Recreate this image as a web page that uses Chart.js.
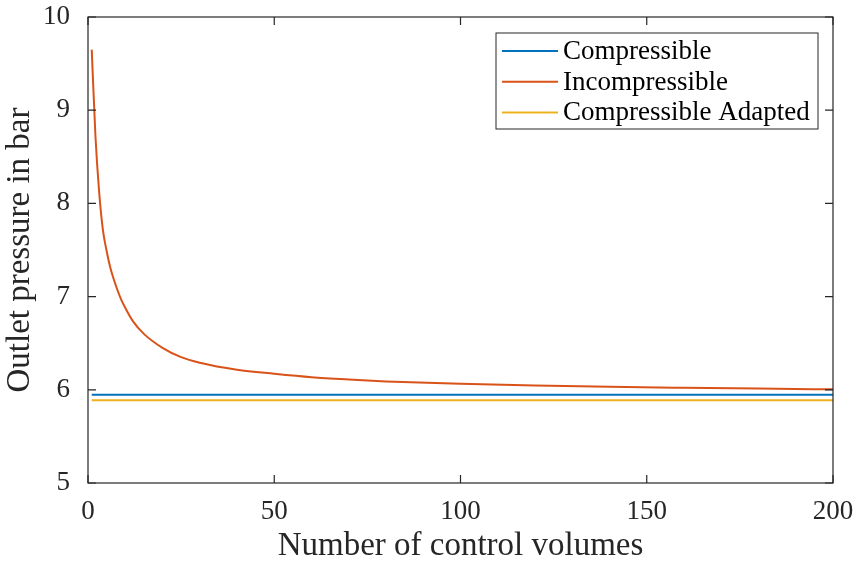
<!DOCTYPE html>
<html>
<head>
<meta charset="utf-8">
<script src="https://cdn.jsdelivr.net/npm/chart.js@4"></script>
<style>
  html, body { margin: 0; padding: 0; background: #fff; }
  #wrap { width: 856px; height: 563px; }
</style>
</head>
<body>
<div id="wrap"><canvas id="pressureChart"></canvas></div>
<script>
// values
const controlVolumes = [1, 2, 3, 4, 5, 6, 7, 8, 9, 10, 12, 15, 20, 25, 30, 40, 50, 60, 70, 80, 100, 120, 140, 160, 180, 200];
const incompressible = [9.65, 8.72, 8.12, 7.715, 7.49, 7.31, 7.175, 7.06, 6.96, 6.88, 6.74, 6.60, 6.45, 6.35, 6.29, 6.215, 6.172, 6.135, 6.11, 6.09, 6.064, 6.045, 6.032, 6.022, 6.013, 6.005];
const constRange = [1, 200];
const compressible = [5.947, 5.947];
const compressibleAdapted = [5.887, 5.887];
const xTicks = [0, 50, 100, 150, 200];
const yTicks = [5, 6, 7, 8, 9, 10];

const serif = '"Liberation Serif", "Times New Roman", serif';
const axisColor = '#262626';

const toPoints = (xs, ys) => xs.map((x, i) => ({ x: x, y: ys[i] }));

// box around the axes with inward ticks on all four sides (matlab style)
const boxTicks = {
    id: 'boxTicks',
    afterDatasetsDraw(chart) {
        const { ctx, chartArea: a, scales } = chart;
        const len = 8;
        ctx.save();
        ctx.strokeStyle = axisColor;
        ctx.lineWidth = 1.2;
        ctx.strokeRect(a.left, a.top, a.right - a.left, a.bottom - a.top);
        ctx.beginPath();
        xTicks.forEach(v => {
            const px = scales.x.getPixelForValue(v);
            ctx.moveTo(px, a.bottom); ctx.lineTo(px, a.bottom - len);
            ctx.moveTo(px, a.top); ctx.lineTo(px, a.top + len);
        });
        yTicks.forEach(v => {
            const py = scales.y.getPixelForValue(v);
            ctx.moveTo(a.left, py); ctx.lineTo(a.left + len, py);
            ctx.moveTo(a.right, py); ctx.lineTo(a.right - len, py);
        });
        ctx.stroke();
        ctx.restore();
    }
};

// legend box in the upper right of the axes
const insideLegend = {
    id: 'insideLegend',
    afterDraw(chart) {
        const { ctx, chartArea: a } = chart;
        const right = a.right - 15, top = a.top + 16;
        const w = 322, h = 96, rowH = 30.7;
        const left = right - w;
        ctx.save();
        ctx.fillStyle = '#fff';
        ctx.fillRect(left, top, w, h);
        ctx.strokeStyle = axisColor;
        ctx.lineWidth = 1;
        ctx.strokeRect(left, top, w, h);
        ctx.font = '27px ' + serif;
        ctx.textBaseline = 'middle';
        chart.data.datasets.forEach((ds, i) => {
            const y = top + 18 + i * rowH;
            ctx.strokeStyle = ds.borderColor;
            ctx.lineWidth = 2;
            ctx.beginPath();
            ctx.moveTo(left + 6, y);
            ctx.lineTo(left + 62, y);
            ctx.stroke();
            ctx.fillStyle = '#000';
            ctx.fillText(ds.label, left + 67, y + 1);
        });
        ctx.restore();
    }
};

new Chart(document.getElementById('pressureChart').getContext('2d'), {
    type: 'line',
    data: {
        datasets: [
            {
                label: 'Compressible',
                data: toPoints(constRange, compressible),
                borderColor: '#0072BD',
                borderWidth: 2,
                pointRadius: 0
            },
            {
                label: 'Incompressible',
                data: toPoints(controlVolumes, incompressible),
                borderColor: '#D95319',
                borderWidth: 2,
                pointRadius: 0,
                cubicInterpolationMode: 'monotone'
            },
            {
                label: 'Compressible Adapted',
                data: toPoints(constRange, compressibleAdapted),
                borderColor: '#EDB120',
                borderWidth: 2,
                pointRadius: 0
            }
        ]
    },
    options: {
        responsive: true,
        maintainAspectRatio: false,
        animation: false,
        layout: { padding: { top: 17, right: 23, left: 0, bottom: 0 } },
        plugins: {
            legend: { display: false },
            tooltip: { enabled: false }
        },
        scales: {
            x: {
                type: 'linear',
                min: 0,
                max: 200,
                afterFit: s => { s.height = 80; s.paddingLeft = 0; s.paddingRight = 0; },
                afterBuildTicks: s => { s.ticks = xTicks.map(v => ({ value: v })); },
                grid: { display: false },
                border: { display: false },
                ticks: { color: axisColor, font: { family: serif, size: 27 }, padding: 5, maxRotation: 0 },
                title: {
                    display: true,
                    text: 'Number of control volumes',
                    color: axisColor,
                    font: { family: serif, size: 33 },
                    padding: { top: 0, bottom: -3 }
                }
            },
            y: {
                type: 'linear',
                min: 5,
                max: 10,
                afterFit: s => { s.width = 88; s.paddingTop = 0; s.paddingBottom = 0; },
                afterBuildTicks: s => { s.ticks = yTicks.map(v => ({ value: v })); },
                grid: { display: false },
                border: { display: false },
                ticks: { color: axisColor, font: { family: serif, size: 27 }, padding: 10 },
                title: {
                    display: true,
                    text: 'Outlet pressure in bar',
                    color: axisColor,
                    font: { family: serif, size: 33 },
                    padding: { top: 1, bottom: 0 }
                }
            }
        }
    },
    plugins: [boxTicks, insideLegend]
});
</script>
</body>
</html>
